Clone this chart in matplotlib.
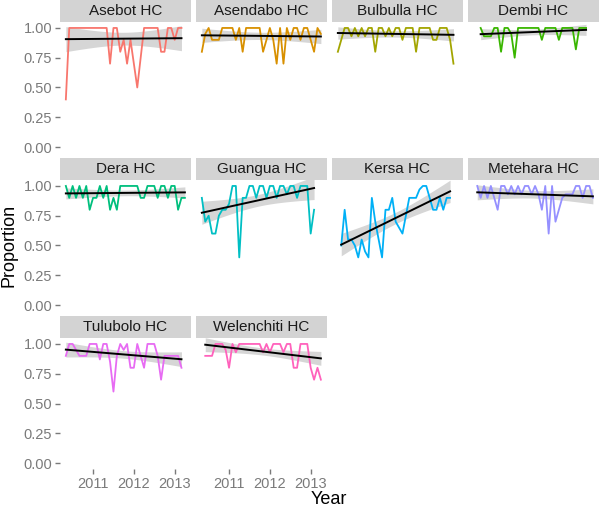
import numpy as np
import matplotlib.pyplot as plt

plt.rcParams['font.family'] = ['Liberation Sans', 'DejaVu Sans']

# monthly observations, May 2010 .. Apr 2013
dates = 2010 + 4 / 12 + np.arange(36) / 12
nan = np.nan

clinics = ['Asebot HC', 'Asendabo HC', 'Bulbulla HC', 'Dembi HC', 'Dera HC',
           'Guangua HC', 'Kersa HC', 'Metehara HC', 'Tulubolo HC', 'Welenchiti HC']

asebot = [0.4, 1.0, 1.0, 1.0, 1.0, 1.0, 1.0, 1.0, 1.0, 1.0, 1.0, 1.0, 1.0, 0.7, 1.0, 1.0, 0.8, 0.9,
          0.7, 0.9, 0.7, 0.5, 0.75, 1.0, 1.0, 1.0, 1.0, 1.0, 0.8, 0.8, 1.0, 1.0, 0.9, 1.0, 1.0, nan]
asendabo = [0.8, 0.95, 1.0, 0.9, 0.9, 0.9, 1.0, 1.0, 1.0, 1.0, 0.9, 1.0, 0.8, 1.0, 1.0, 1.0, 1.0, 1.0,
            0.8, 0.9, 1.0, 0.9, 0.7, 1.0, 0.7, 1.0, 0.9, 1.0, 1.0, 0.9, 1.0, 1.0, 0.9, 0.8, 1.0, 0.95]
bulbulla = [0.8, 0.9, 1.0, 1.0, 0.93, 1.0, 0.93, 1.0, 0.93, 1.0, 1.0, 0.8, 1.0, 1.0, 0.93, 1.0, 0.93, 1.0,
            1.0, 0.9, 1.0, 1.0, 1.0, 0.8, 1.0, 1.0, 1.0, 1.0, 0.9, 0.9, 1.0, 1.0, 1.0, 0.9, 0.7, nan]
dembi = [nan, nan, 1.0, 0.93, 0.93, 0.93, 1.0, 1.0, 0.8, 1.0, 1.0, 0.95, 0.75, 1.0, 1.0, 1.0, 1.0, 1.0,
         1.0, 1.0, 0.9, 1.0, 1.0, 1.0, 1.0, 0.9, 1.0, 1.0, 1.0, 1.0, 0.82, 1.0, 1.0, 1.0, nan, nan]
dera = [1.0, 0.9, 1.0, 0.9, 1.0, 0.9, 1.0, 0.8, 0.9, 0.9, 1.0, 0.9, 1.0, 0.8, 0.9, 0.8, 1.0, 1.0,
        1.0, 1.0, 1.0, 1.0, 0.9, 0.9, 1.0, 1.0, 1.0, 0.9, 1.0, 1.0, 0.9, 1.0, 1.0, 0.8, 0.9, 0.9]
guangua = [0.9, 0.7, 0.75, 0.6, 0.6, 0.75, 0.8, 0.8, 0.85, 1.0, 1.0, 0.4, 0.9, 0.9, 1.0, 1.0, 0.9, 1.0,
           1.0, 0.9, 1.0, 1.0, 0.9, 1.0, 1.0, 0.93, 1.0, 1.0, 0.9, 1.0, 1.0, 1.0, 0.6, 0.8, nan, nan]
kersa = [nan, 0.5, 0.8, 0.55, 0.55, 0.5, 0.4, 0.55, 0.45, 0.4, 0.9, 0.7, 0.55, 0.4, 0.8, 0.8, 0.9, 0.7,
         0.65, 0.6, 0.75, 0.9, 0.9, 0.9, 0.97, 1.0, 1.0, 0.9, 0.8, 0.8, 0.9, 0.8, 0.9, 0.9, nan, nan]
metehara = [nan, 1.0, 0.9, 1.0, 0.9, 1.0, 0.9, 0.8, 1.0, 1.0, 0.93, 1.0, 0.93, 1.0, 0.93, 1.0, 1.0, 0.93,
            1.0, 0.93, 0.8, 1.0, 0.6, 1.0, 0.7, 0.8, 0.9, 0.93, 0.93, 0.93, 1.0, 1.0, 0.9, 1.0, 1.0, 0.9]
tulubolo = [0.9, 1.0, 1.0, 0.95, 0.9, 0.9, 0.9, 1.0, 1.0, 1.0, 0.87, 1.0, 1.0, 0.85, 0.6, 0.9, 1.0, 0.95,
            1.0, 0.8, 0.8, 1.0, 0.9, 0.8, 1.0, 1.0, 1.0, 0.9, 0.7, 0.9, 0.9, 0.9, 0.9, 0.9, 0.8, nan]
welenchiti = [nan, 0.9, 0.9, 0.9, 1.0, 1.0, 1.0, 0.95, 0.8, 1.0, 0.93, 1.0, 1.0, 1.0, 1.0, 1.0, 1.0, 1.0,
              0.93, 1.0, 0.93, 1.0, 1.0, 1.0, 0.93, 1.0, 1.0, 0.8, 0.8, 1.0, 1.0, 1.0, 0.8, 0.7, 0.8, 0.7]

series = [asebot, asendabo, bulbulla, dembi, dera, guangua, kersa, metehara, tulubolo, welenchiti]
colors = ['#F8766D', '#D89000', '#A3A500', '#39B600', '#00BF7D',
          '#00BFC4', '#00B0F6', '#9590FF', '#E76BF3', '#FF62BC']

W, H = 600, 511
fig = plt.figure(figsize=(W / 100, H / 100), dpi=100)


def box(x, y, w, h):
    return [x / W, 1 - (y + h) / H, w / W, h / H]


grey = '#7a7a7a'
pw, ph = 131, 131
for k, (name, vals, col) in enumerate(zip(clinics, series, colors)):
    r, c = divmod(k, 4)
    x0 = 60 + 136 * c
    y0 = 22 + 158 * r
    ax = fig.add_axes(box(x0, y0, pw, ph))
    y = np.array(vals, dtype=float)
    ax.plot(dates, y, color=col, lw=1.3)

    # linear fit with 95% band
    m = ~np.isnan(y)
    xs, ys = dates[m], y[m]
    b1, b0 = np.polyfit(xs, ys, 1)
    res = ys - (b0 + b1 * xs)
    n = len(xs)
    s = np.sqrt(np.sum(res ** 2) / (n - 2))
    xg = np.linspace(xs.min(), xs.max(), 80)
    se = s * np.sqrt(1 / n + (xg - xs.mean()) ** 2 / np.sum((xs - xs.mean()) ** 2))
    fit = b0 + b1 * xg
    ax.fill_between(xg, fit - 2.03 * se, fit + 2.03 * se, color='#999999', alpha=0.4, lw=0)
    ax.plot(xg, fit, color='black', lw=1.4)

    ax.set_xlim(2010.19, 2013.40)
    ax.set_ylim(-0.05, 1.05)
    for sp in ax.spines.values():
        sp.set_visible(False)
    if c == 0:
        ax.set_yticks([0, 0.25, 0.5, 0.75, 1.0])
        ax.set_yticklabels(['0.00', '0.25', '0.50', '0.75', '1.00'])
    else:
        ax.set_yticks([])
    if r == 2:
        ax.set_xticks([2011, 2012, 2013])
        ax.set_xticklabels(['2011', '2012', '2013'])
    else:
        ax.set_xticks([])
    ax.tick_params(length=3.5, width=1, color=grey, labelcolor=grey, labelsize=10.5, pad=2)

    sax = fig.add_axes(box(x0, y0 - 22, pw, 22))
    sax.set_facecolor('#d3d3d3')
    sax.set_xticks([])
    sax.set_yticks([])
    for sp in sax.spines.values():
        sp.set_visible(False)
    sax.text(0.5, 0.5, name, ha='center', va='center', fontsize=11, color='#1a1a1a',
             transform=sax.transAxes)

fig.text(329 / W, 1 - 500 / H, 'Year', ha='center', va='center', fontsize=13)
fig.text(9 / W, 1 - 245 / H, 'Proportion', ha='center', va='center', rotation=90, fontsize=13)

fig.savefig('out.png', dpi=100)
